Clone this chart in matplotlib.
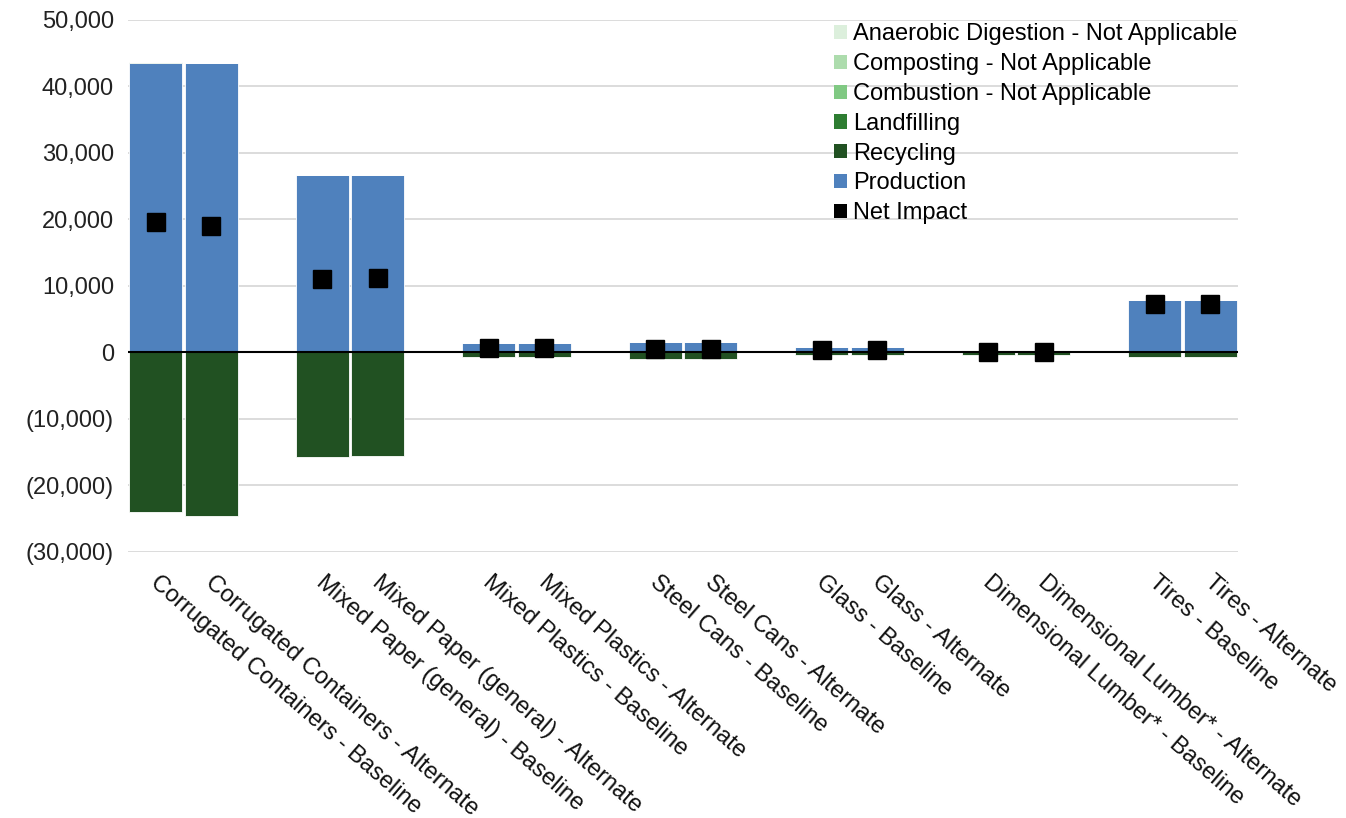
import matplotlib
matplotlib.use("Agg")
import matplotlib.pyplot as plt
from matplotlib.patches import Patch
from matplotlib.ticker import FuncFormatter, MultipleLocator
import numpy as np

plt.rcParams['font.family'] = ['Liberation Sans', 'DejaVu Sans']

# Materials, each shown for a baseline and an alternate scenario
materials = ["Corrugated Containers", "Mixed Paper (general)", "Mixed Plastics",
             "Steel Cans", "Glass", "Dimensional Lumber*", "Tires"]
scenarios = ["Baseline", "Alternate"]

# Emissions by life-cycle stage (MTCO2e)
production_baseline = [43550, 26650, 1350, 1550, 750, 400, 7950]
production_alternate = [43550, 26650, 1350, 1550, 750, 400, 7950]
recycling_baseline = [-24050, -15650, -700, -1000, -400, -400, -700]
recycling_alternate = [-24600, -15500, -700, -1000, -400, -400, -700]
landfilling_baseline = [100, 0, 0, 0, 0, 0, 0]
landfilling_alternate = [0, 100, 0, 0, 0, 0, 0]
combustion_baseline = [0, 0, 0, 0, 0, 0, 0]
combustion_alternate = [0, 0, 0, 0, 0, 0, 0]
composting_baseline = [0, 0, 0, 0, 0, 0, 0]
composting_alternate = [0, 0, 0, 0, 0, 0, 0]
anaerobic_baseline = [0, 0, 0, 0, 0, 0, 0]
anaerobic_alternate = [0, 0, 0, 0, 0, 0, 0]
net_baseline = [19600, 11000, 650, 550, 350, 0, 7250]
net_alternate = [18950, 11250, 650, 550, 350, 0, 7250]

colors = {
    "Anaerobic Digestion - Not Applicable": "#dcefdc",
    "Composting - Not Applicable": "#addcad",
    "Combustion - Not Applicable": "#80c983",
    "Landfilling": "#2e7d32",
    "Recycling": "#215122",
    "Production": "#4f81bd",
}

# Interleave baseline / alternate with an empty slot between materials
positions, labels = [], []
prod, recyc, landf, comb, comp, anae, net = [], [], [], [], [], [], []
for i, m in enumerate(materials):
    for j, s in enumerate(scenarios):
        positions.append(3 * i + j)
        labels.append(f"{m} - {s}")
        if j == 0:
            prod.append(production_baseline[i]); recyc.append(recycling_baseline[i])
            landf.append(landfilling_baseline[i]); comb.append(combustion_baseline[i])
            comp.append(composting_baseline[i]); anae.append(anaerobic_baseline[i])
            net.append(net_baseline[i])
        else:
            prod.append(production_alternate[i]); recyc.append(recycling_alternate[i])
            landf.append(landfilling_alternate[i]); comb.append(combustion_alternate[i])
            comp.append(composting_alternate[i]); anae.append(anaerobic_alternate[i])
            net.append(net_alternate[i])

positions = np.array(positions, dtype=float)
stack = [
    ("Production", np.array(prod, dtype=float)),
    ("Recycling", np.array(recyc, dtype=float)),
    ("Landfilling", np.array(landf, dtype=float)),
    ("Combustion - Not Applicable", np.array(comb, dtype=float)),
    ("Composting - Not Applicable", np.array(comp, dtype=float)),
    ("Anaerobic Digestion - Not Applicable", np.array(anae, dtype=float)),
]

fig = plt.figure(figsize=(13.46, 8.18), dpi=100)
ax = fig.add_axes([0.0951, 0.3252, 0.8247, 0.6504])

pos_base = np.zeros(len(positions))
neg_base = np.zeros(len(positions))
width = 0.95
for name, vals in stack:
    bottoms = np.where(vals >= 0, pos_base, neg_base)
    ax.bar(positions, vals, width=width, bottom=bottoms, color=colors[name],
           edgecolor="white", linewidth=0.6, zorder=3)
    pos_base = pos_base + np.where(vals >= 0, vals, 0)
    neg_base = neg_base + np.where(vals < 0, vals, 0)

ax.plot(positions, net, linestyle="none", marker="s", markersize=13.5,
        color="black", zorder=5)

ax.axhline(0, color="black", linewidth=1.5, zorder=4)

ax.set_xlim(-0.5, 19.5)
ax.set_ylim(-30000, 50000)
ax.yaxis.set_major_locator(MultipleLocator(10000))
ax.yaxis.set_major_formatter(FuncFormatter(
    lambda v, p: "0" if v == 0 else (f"({abs(v):,.0f})" if v < 0 else f"{v:,.0f}")))
ax.grid(axis="y", color="#d9d9d9", linewidth=1.3, zorder=0)
ax.set_axisbelow(True)
for sp in ax.spines.values():
    sp.set_visible(False)
ax.tick_params(axis="y", length=0, labelsize=17, pad=10, labelcolor="#222222")
ax.tick_params(axis="x", length=0)
ax.set_xticks([])

for x, lab in zip(positions, labels):
    ax.text(x + 0.08, -32900, lab, rotation=-41, rotation_mode="anchor",
            ha="left", va="top", fontsize=17, color="#111111")

legend_order = ["Anaerobic Digestion - Not Applicable", "Composting - Not Applicable",
                "Combustion - Not Applicable", "Landfilling", "Recycling", "Production"]
handles = [Patch(facecolor=colors[n], edgecolor="none", label=n) for n in legend_order]
handles.append(Patch(facecolor="black", edgecolor="none", label="Net Impact"))
ax.legend(handles=handles, loc="upper right", bbox_to_anchor=(1.012, 1.02),
          frameon=False, fontsize=17, handlelength=0.55, handleheight=0.55,
          handletextpad=0.25, labelspacing=0.33, borderaxespad=0.2)

fig.savefig("out.png", dpi=100)
